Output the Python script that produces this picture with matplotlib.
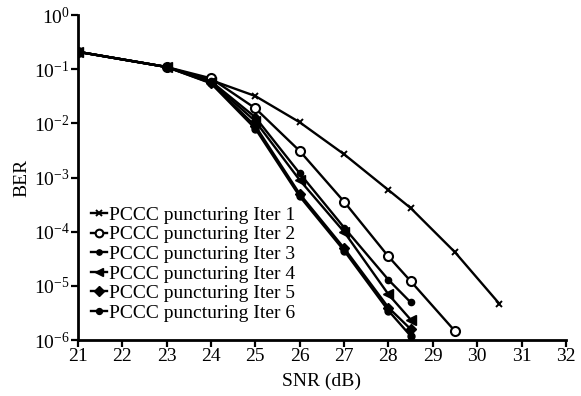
import numpy as np
import matplotlib
matplotlib.use("Agg")
import matplotlib.pyplot as plt
from matplotlib.ticker import LogLocator, NullLocator

plt.rcParams['font.family'] = ['Liberation Serif', 'DejaVu Serif']
plt.rcParams['mathtext.fontset'] = 'stix'

# SNR (dB) points for each iteration count
snr_1 = [21, 23, 24, 25, 26, 27, 28, 28.5, 29.5, 30.5]
snr_2 = [21, 23, 24, 25, 26, 27, 28, 28.5, 29.5]
snr_n = [21, 23, 24, 25, 26, 27, 28, 28.5]

ber_1 = [0.21, 0.11, 0.063, 0.032, 0.0105, 0.0027, 5.9e-4, 2.75e-4, 4.2e-5, 4.7e-6]
ber_2 = [0.21, 0.11, 0.068, 0.019, 3.1e-3, 3.6e-4, 3.5e-5, 1.23e-5, 1.47e-6]
ber_3 = [0.21, 0.11, 0.060, 0.013, 1.2e-3, 1.2e-4, 1.3e-5, 5.0e-6]
ber_4 = [0.21, 0.11, 0.058, 0.011, 9.0e-4, 1.0e-4, 7.0e-6, 2.4e-6]
ber_5 = [0.21, 0.11, 0.056, 0.009, 5.0e-4, 5.0e-5, 4.0e-6, 1.6e-6]
ber_6 = [0.21, 0.11, 0.055, 0.008, 4.5e-4, 4.5e-5, 3.5e-6, 1.2e-6]

labels = ["PCCC puncturing Iter %d" % i for i in range(1, 7)]

fig = plt.figure(figsize=(5.81, 3.96), dpi=100)
ax = fig.add_axes([0.134, 0.141, 0.84, 0.821])

kw = dict(color='black', lw=1.7)
ax.plot(snr_1, ber_1, marker='x', ms=5, mew=1.4, label=labels[0], **kw)
ax.plot(snr_2, ber_2, marker='o', ms=6.5, mew=1.5, mfc='white', label=labels[1], **kw)
ax.plot(snr_n, ber_3, marker='o', ms=4.5, label=labels[2], **kw)
ax.plot(snr_n, ber_4, marker='<', ms=6.5, label=labels[3], **kw)
ax.plot(snr_n, ber_5, marker='D', ms=5.5, label=labels[4], **kw)
ax.plot(snr_n, ber_6, marker='o', ms=5, label=labels[5], **kw)

ax.set_yscale('log')
ax.set_xlim(21, 32)
ax.set_ylim(1e-6, 1)
ax.set_xticks(np.arange(21, 33, 1))
ax.yaxis.set_major_locator(LogLocator(base=10, numticks=10))
ax.yaxis.set_minor_locator(NullLocator())

for s in ['top', 'right']:
    ax.spines[s].set_visible(False)
for s in ['left', 'bottom']:
    ax.spines[s].set_linewidth(2.0)
ax.tick_params(direction='out', length=5, width=1.6, labelsize=14, pad=1)

ax.set_xlabel('SNR (dB)', fontsize=14, labelpad=5)
ax.set_ylabel('BER', fontsize=14, labelpad=2)

leg = ax.legend(loc='lower left', bbox_to_anchor=(0.0, 0.015), frameon=False,
                fontsize=14, handlelength=0.8, handletextpad=0.1,
                labelspacing=0.1, borderaxespad=0.3, markerscale=0.85)

fig.savefig('out.png', dpi=100)
